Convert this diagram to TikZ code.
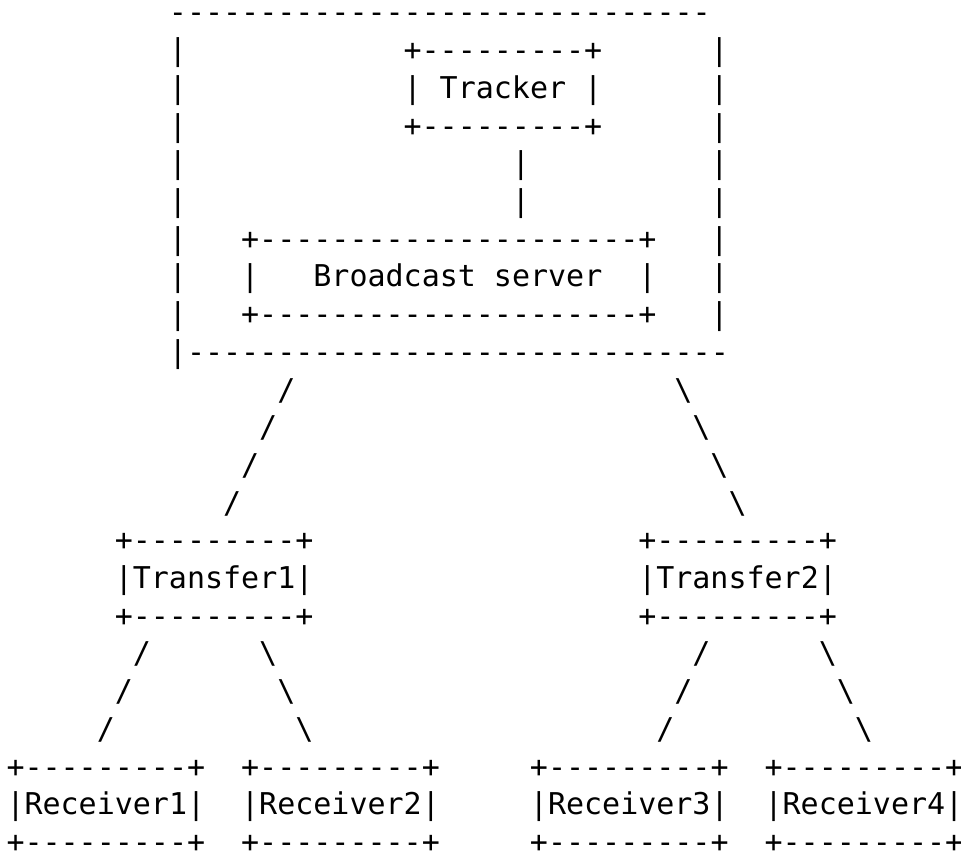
\documentclass[tikz,border=0pt]{standalone}
\usepackage{fontspec}
\setmonofont{DejaVu Sans Mono}
% character grid: cell width and line pitch, in pt
\newcommand\cw{18.05}
\newcommand\lh{37.7}
% place a run of characters at column #2, line #3
\newcommand\glyphat[4]{\node[ascii] (#1) at ({6.5+\cw*(#2)},{-23-\lh*((#3)-1)}) {#4};}
\newcommand\boxrule{+---------+}
\begin{document}
\begin{tikzpicture}[x=1pt,y=1pt,
  ascii/.style={anchor=base west, inner sep=0pt, outer sep=0pt,
    font=\ttfamily\fontsize{30}{36}\selectfont}]
\useasboundingbox (0,0) rectangle (961,-856);

% outer frame around tracker and broadcast server
\glyphat{frameTop}{9}{1}{------------------------------}
\foreach \r in {2,...,9} {
  \glyphat{frameL\r}{9}{\r}{|}
  \glyphat{frameR\r}{39}{\r}{|}
}
\glyphat{frameBot}{9}{10}{|------------------------------}

% tracker
\glyphat{trackerTop}{22}{2}{\boxrule}
\glyphat{tracker}{22}{3}{|\ Tracker\ |}
\glyphat{trackerBot}{22}{4}{\boxrule}

% tracker to broadcast server link
\glyphat{link5}{28}{5}{|}
\glyphat{link6}{28}{6}{|}

% broadcast server
\glyphat{serverTop}{13}{7}{+---------------------+}
\glyphat{server}{13}{8}{|\ \ \ Broadcast server\ \ |}
\glyphat{serverBot}{13}{9}{+---------------------+}

% links from frame to transfer nodes
\glyphat{la11}{15}{11}{/}
\glyphat{la12}{14}{12}{/}
\glyphat{la13}{13}{13}{/}
\glyphat{la14}{12}{14}{/}
\glyphat{lb11}{37}{11}{\textbackslash}
\glyphat{lb12}{38}{12}{\textbackslash}
\glyphat{lb13}{39}{13}{\textbackslash}
\glyphat{lb14}{40}{14}{\textbackslash}

% transfer nodes
\glyphat{tOneTop}{6}{15}{\boxrule}
\glyphat{tOne}{6}{16}{|Transfer1|}
\glyphat{tOneBot}{6}{17}{\boxrule}
\glyphat{tTwoTop}{35}{15}{\boxrule}
\glyphat{tTwo}{35}{16}{|Transfer2|}
\glyphat{tTwoBot}{35}{17}{\boxrule}

% links from transfer nodes to receivers
\glyphat{ra18}{7}{18}{/}
\glyphat{ra19}{6}{19}{/}
\glyphat{ra20}{5}{20}{/}
\glyphat{rb18}{14}{18}{\textbackslash}
\glyphat{rb19}{15}{19}{\textbackslash}
\glyphat{rb20}{16}{20}{\textbackslash}
\glyphat{rc18}{38}{18}{/}
\glyphat{rc19}{37}{19}{/}
\glyphat{rc20}{36}{20}{/}
\glyphat{rd18}{45}{18}{\textbackslash}
\glyphat{rd19}{46}{19}{\textbackslash}
\glyphat{rd20}{47}{20}{\textbackslash}

% receivers
\foreach \c/\k in {0/1,13/2,29/3,42/4} {
  \glyphat{recTop\k}{\c}{21}{\boxrule}
  \glyphat{rec\k}{\c}{22}{|Receiver\k|}
  \glyphat{recBot\k}{\c}{23}{\boxrule}
}
\end{tikzpicture}
\end{document}
